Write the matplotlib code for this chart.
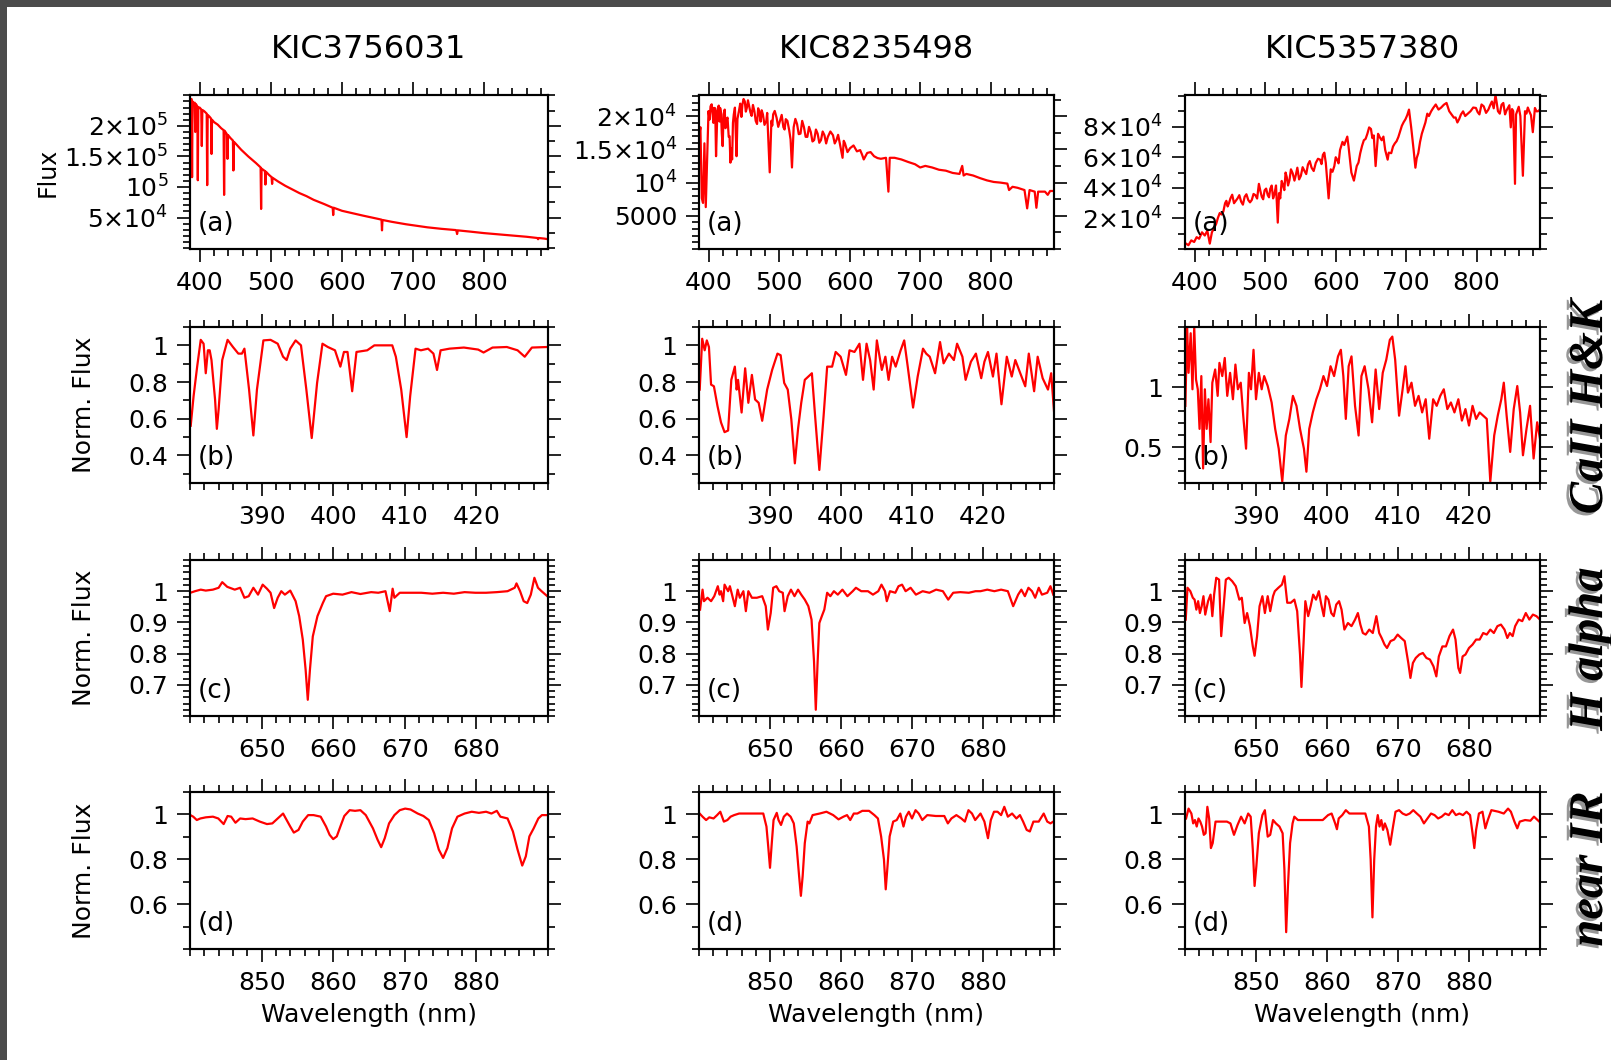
import numpy as np
import matplotlib
matplotlib.use('Agg')
import matplotlib.pyplot as plt
import matplotlib.patheffects as pe
from matplotlib.patches import Rectangle
from matplotlib.ticker import FixedLocator, FixedFormatter, MultipleLocator

plt.rcParams['font.family'] = 'DejaVu Sans'
plt.rcParams['mathtext.fontset'] = 'dejavusans'

stars = ['KIC3756031', 'KIC8235498', 'KIC5357380']
bands = ['CaII H&K', 'H alpha', 'near IR']
letters = ['(a)', '(b)', '(c)', '(d)']

# ---- (a) full spectra: wavelength (nm), flux ----
s1_full = np.array([
    (386.0, 2.36e5), (387.0, 2.42e5), (388.2, 2.44e5), (388.9, 1.16e5), (389.6, 2.40e5),
    (391.0, 2.35e5), (392.6, 2.38e5), (393.4, 1.90e5), (394.2, 2.36e5), (396.3, 2.32e5),
    (397.0, 1.11e5), (397.7, 2.30e5), (399.5, 2.30e5), (401.8, 2.27e5), (402.6, 1.67e5),
    (403.4, 2.26e5), (406.0, 2.24e5), (409.5, 2.20e5), (410.2, 1.03e5), (410.9, 2.18e5),
    (413.5, 2.15e5), (415.6, 2.12e5), (416.3, 1.54e5), (417.0, 2.10e5), (420.0, 2.06e5),
    (425.0, 2.02e5), (430.0, 1.96e5), (433.3, 1.93e5), (434.0, 8.7e4), (434.8, 1.92e5),
    (438.1, 1.86e5), (438.8, 1.46e5), (439.5, 1.85e5), (443.0, 1.80e5), (446.4, 1.76e5),
    (447.1, 1.27e5), (447.8, 1.74e5), (451.0, 1.70e5), (458.0, 1.61e5), (468.0, 1.50e5),
    (479.0, 1.39e5), (485.4, 1.32e5), (486.1, 6.4e4), (486.8, 1.30e5), (491.5, 1.26e5),
    (492.2, 1.04e5), (492.9, 1.25e5), (497.0, 1.20e5), (500.9, 1.16e5), (501.6, 1.05e5),
    (502.3, 1.15e5), (510.0, 1.09e5), (520.0, 1.02e5), (530.0, 9.6e4), (540.0, 9.0e4),
    (550.0, 8.5e4), (560.0, 7.9e4), (575.0, 7.2e4), (586.9, 6.6e4), (587.6, 5.4e4),
    (588.3, 6.6e4), (600.0, 6.1e4), (615.0, 5.7e4), (630.0, 5.3e4), (650.0, 4.8e4),
    (655.6, 4.65e4), (656.3, 2.9e4), (657.0, 4.6e4), (670.0, 4.3e4), (690.0, 3.9e4),
    (702.0, 3.7e4), (720.0, 3.4e4), (740.0, 3.15e4), (760.0, 2.95e4), (761.0, 2.9e4),
    (762.0, 2.3e4), (763.0, 2.9e4), (780.0, 2.7e4), (800.0, 2.45e4), (820.0, 2.25e4),
    (840.0, 2.05e4), (860.0, 1.85e4), (875.0, 1.65e4), (876.0, 1.45e4), (877.0, 1.65e4),
    (885.0, 1.55e4), (890.0, 1.45e4)])

s2_full = np.array([
    (386.0, 16900), (388.0, 18350), (390.0, 7670), (391.7, 6940), (393.7, 15920),
    (395.6, 6310), (397.6, 13490), (399.5, 20780), (401.0, 19500), (402.4, 21500),
    (404.0, 21800), (405.3, 20290), (406.5, 19000), (407.3, 21260), (409.0, 21200),
    (410.2, 13980), (411.2, 17500), (412.1, 20780), (414.0, 21600), (415.2, 19200),
    (416.0, 21260), (417.2, 20600), (418.4, 17380), (419.6, 15500), (420.9, 20290),
    (422.5, 21000), (423.6, 18200), (424.8, 19320), (426.5, 19800), (428.2, 16890),
    (429.4, 17000), (430.6, 13010), (431.8, 15200), (433.0, 13490), (434.2, 19000),
    (435.4, 20290), (437.0, 21300), (438.2, 17600), (439.3, 13980), (440.6, 19600),
    (442.7, 20780), (444.5, 21900), (446.2, 19900), (447.6, 21750), (449.3, 22600),
    (451.0, 22230), (452.5, 20700), (453.9, 21260), (455.5, 22400), (457.3, 21500),
    (459.0, 20600), (460.7, 20050), (462.6, 21700), (464.6, 20780), (466.5, 19300),
    (468.4, 18830), (470.0, 21200), (471.8, 20530), (473.5, 19200), (475.0, 20900),
    (476.7, 20290), (479.0, 18700), (481.6, 19320), (482.8, 20500), (484.0, 17380),
    (486.4, 11550), (488.8, 19320), (490.0, 18600), (491.3, 20290), (493.5, 20800),
    (496.1, 19800), (498.5, 18400), (501.0, 19320), (503.4, 20200), (505.8, 18350),
    (507.5, 18000), (509.2, 19560), (511.5, 19300), (514.1, 17860), (516.0, 16500),
    (518.0, 12280), (520.4, 18350), (522.8, 19600), (525.2, 18830), (527.6, 17300),
    (530.1, 17380), (532.5, 19300), (535.0, 18350), (537.4, 16900), (539.8, 16890),
    (542.2, 18400), (544.7, 17620), (547.1, 16200), (549.5, 16410), (552.0, 18000),
    (554.4, 17380), (556.8, 16000), (559.2, 16410), (561.6, 17700), (564.1, 17140),
    (566.5, 15900), (568.9, 16890), (572.5, 17700), (576.2, 17140), (578.7, 15900),
    (581.1, 16410), (583.5, 17200), (585.9, 15920), (589.8, 13740), (591.5, 16300),
    (593.2, 15920), (596.8, 14600), (600.5, 15190), (605.4, 15600), (610.2, 14710),
    (614.8, 14900), (617.5, 14220), (619.9, 13490), (624.8, 14470), (629.6, 14600),
    (634.5, 13980), (639.4, 13700), (644.2, 13590), (651.5, 13740), (654.9, 8640),
    (656.8, 13740), (663.6, 13740), (673.3, 13490), (683.0, 13110), (692.7, 12770),
    (700.0, 12280), (707.3, 12520), (717.0, 12280), (726.7, 11940), (736.4, 11800),
    (746.1, 11460), (755.8, 11310), (759.7, 12520), (761.7, 11070), (765.5, 11310),
    (775.2, 11070), (784.9, 10680), (794.7, 10340), (804.4, 10100), (814.1, 10000),
    (823.8, 9850), (826.2, 8880), (831.1, 9370), (838.3, 9220), (848.1, 8880),
    (851.9, 6120), (855.3, 8880), (862.6, 8640), (865.0, 6210), (867.5, 8640),
    (877.2, 8640), (881.1, 8160), (884.5, 8740), (888.3, 8740)])

s3_full = np.array([
    (387.4, 3530), (390.9, 2470), (394.9, 5640), (399.0, 4580), (402.5, 7750),
    (406.1, 6700), (410.1, 10920), (414.1, 8810), (417.7, 11970), (421.2, 3530),
    (424.2, 10920), (427.8, 14090), (430.3, 16500), (432.8, 20420), (435.3, 23500),
    (437.9, 22530), (440.4, 24500), (442.9, 29930), (444.7, 31500), (446.5, 27810),
    (448.5, 30000), (450.5, 33100), (453.0, 35500), (455.6, 29930), (458.1, 31500),
    (460.6, 33100), (463.1, 35200), (465.7, 30980), (468.2, 29000), (470.7, 34150),
    (473.2, 35800), (475.8, 32040), (478.3, 30500), (480.8, 32040), (483.3, 36000),
    (485.9, 35200), (488.4, 33000), (490.9, 42600), (493.0, 38000), (495.0, 34150),
    (497.0, 32500), (499.0, 38370), (501.2, 39500), (503.5, 35200), (505.3, 33800),
    (507.1, 39430), (509.1, 41500), (511.1, 33100), (513.1, 36000), (515.2, 41540),
    (517.7, 17250), (519.5, 36500), (521.2, 33100), (523.3, 44500), (525.3, 41540),
    (527.0, 38500), (528.8, 49990), (530.5, 47000), (532.3, 41540), (534.3, 45000),
    (536.4, 52100), (538.9, 49500), (541.4, 44710), (543.4, 48500), (545.5, 53160),
    (548.0, 45500), (550.5, 47880), (553.0, 53500), (555.6, 51050), (558.1, 49000),
    (560.6, 55270), (563.1, 57500), (565.7, 53160), (568.7, 51000), (571.7, 56330),
    (574.8, 59000), (577.8, 58440), (579.8, 55500), (581.8, 61610), (583.8, 63000),
    (585.9, 56330), (589.9, 33100), (592.9, 52100), (595.4, 50500), (598.0, 54210),
    (600.0, 60000), (602.0, 58440), (604.0, 56000), (606.1, 64770), (609.6, 70050),
    (612.1, 68000), (614.6, 71110), (616.4, 73500), (618.2, 66890), (622.2, 49990),
    (625.8, 44710), (629.8, 54210), (632.3, 56500), (634.8, 62660), (637.4, 67500),
    (639.9, 71110), (642.4, 72000), (644.9, 75330), (647.4, 79500), (650.0, 78500),
    (652.0, 72500), (654.0, 74280), (656.6, 54210), (660.1, 75330), (662.6, 73000),
    (665.2, 71110), (667.7, 73500), (670.2, 64770), (673.7, 58440), (675.3, 63000),
    (678.8, 62660), (681.3, 67000), (683.8, 69000), (686.4, 70500), (688.9, 73220),
    (691.4, 77000), (693.9, 80610), (696.5, 83000), (699.0, 84840), (701.5, 87500),
    (704.0, 91170), (707.1, 79560), (710.6, 64770), (713.1, 53160), (715.0, 59500),
    (717.2, 62660), (719.7, 70000), (722.2, 75330), (724.8, 79000), (727.3, 82730),
    (730.0, 88500), (732.3, 86950), (735.4, 90000), (738.4, 92230), (742.0, 94500),
    (745.9, 91170), (749.7, 92500), (753.5, 94340), (757.3, 95500), (761.1, 90120),
    (764.4, 88000), (767.7, 85900), (770.2, 86000), (772.7, 82730), (775.3, 85000),
    (777.8, 88010), (780.8, 90000), (783.8, 86950), (787.6, 88500), (791.4, 90120),
    (795.2, 92500), (799.0, 92230), (801.5, 89500), (804.0, 88010), (807.0, 94500),
    (810.1, 93290), (813.4, 89000), (816.7, 91170), (819.2, 94000), (821.7, 96450),
    (824.3, 92000), (826.8, 100680), (828.6, 95500), (830.3, 90120), (832.9, 88500),
    (835.4, 94340), (837.9, 95500), (840.4, 88010), (842.4, 90500), (844.4, 92230),
    (846.5, 94000), (848.5, 79560), (850.3, 91500), (852.0, 90120), (854.5, 42600),
    (856.0, 88000), (857.6, 90120), (859.8, 93000), (862.1, 86950), (865.7, 47880),
    (868.7, 90120), (870.7, 88500), (872.7, 92500), (874.7, 90120), (877.2, 87500),
    (879.8, 76390), (882.8, 92230), (885.1, 90000), (887.4, 90120), (889.9, 91170)])

# ---- (b) CaII H&K region, normalised flux ----
s1_cahk = np.array([
    (380.1, 0.562), (380.5, 0.723), (381.0, 0.884), (381.5, 1.030), (381.9, 1.009),
    (382.2, 0.848), (382.5, 0.973), (382.75, 0.973), (383.0, 0.920), (383.5, 0.705),
    (383.75, 0.545), (384.0, 0.652), (384.5, 0.920), (385.25, 1.030), (386.0, 0.991),
    (386.75, 0.955), (387.25, 0.955), (387.6, 0.982), (388.25, 0.759), (388.85, 0.509),
    (389.35, 0.759), (390.25, 1.027), (391.25, 1.030), (392.25, 1.009), (393.0, 0.938),
    (393.5, 0.920), (394.0, 0.982), (394.75, 1.027), (395.5, 1.000), (396.25, 0.759),
    (397.0, 0.495), (397.75, 0.795), (398.5, 1.009), (399.25, 0.991), (400.25, 0.973),
    (401.0, 0.884), (401.5, 0.964), (402.0, 0.964), (402.65, 0.750), (403.25, 0.964),
    (404.75, 0.973), (405.75, 1.000), (407.25, 1.000), (408.25, 1.000), (408.75, 0.938),
    (409.5, 0.759), (410.25, 0.500), (410.75, 0.723), (411.5, 0.982), (412.25, 0.973),
    (413.25, 0.982), (414.0, 0.955), (414.5, 0.866), (415.0, 0.973), (416.25, 0.982),
    (418.25, 0.988), (420.25, 0.977), (421.0, 0.961), (422.25, 0.988), (424.25, 0.991),
    (425.75, 0.973), (426.75, 0.938), (427.75, 0.988), (429.9, 0.991)])

s2_cahk = np.array([
    (380.1, 0.759), (380.45, 1.036), (380.8, 0.973), (381.1, 1.027), (381.4, 0.991),
    (381.7, 0.786), (382.1, 0.777), (382.6, 0.670), (383.1, 0.580), (383.6, 0.527),
    (384.1, 0.536), (384.55, 0.812), (385.05, 0.884), (385.3, 0.759), (385.5, 0.812),
    (386.0, 0.634), (386.5, 0.875), (386.95, 0.687), (387.45, 0.839), (387.9, 0.705),
    (388.4, 0.687), (388.9, 0.589), (389.6, 0.759), (390.3, 0.866), (391.05, 0.955),
    (391.5, 0.946), (392.0, 0.795), (392.5, 0.759), (393.0, 0.598), (393.5, 0.357),
    (393.95, 0.545), (394.4, 0.687), (394.9, 0.812), (395.4, 0.830), (395.9, 0.848),
    (396.35, 0.616), (396.95, 0.321), (397.55, 0.616), (398.05, 0.884), (398.75, 0.884),
    (399.25, 0.964), (399.95, 0.938), (400.7, 0.839), (401.2, 0.973), (401.9, 0.964),
    (402.6, 1.009), (403.1, 0.812), (403.6, 1.009), (404.1, 0.920), (404.6, 0.759),
    (405.05, 1.027), (405.75, 0.866), (406.25, 0.938), (406.7, 0.812), (407.2, 0.938),
    (407.7, 0.884), (408.4, 0.973), (408.9, 1.027), (409.4, 0.884), (410.15, 0.661),
    (410.8, 0.830), (411.55, 0.982), (412.0, 0.955), (412.5, 0.938), (413.25, 0.848),
    (413.95, 1.018), (414.45, 0.902), (415.2, 0.955), (415.9, 0.920), (416.35, 1.009),
    (417.1, 0.938), (417.55, 0.812), (418.3, 0.911), (419.0, 0.955), (419.75, 0.821),
    (420.2, 0.911), (420.7, 0.964), (421.4, 0.830), (421.9, 0.955), (422.6, 0.679),
    (423.35, 0.938), (424.05, 0.830), (424.55, 0.920), (425.25, 0.848), (425.95, 0.777),
    (426.45, 0.955), (427.2, 0.750), (427.7, 0.938), (428.4, 0.821), (429.15, 0.759),
    (429.6, 0.848), (430.0, 0.643)])

s3_cahk = np.array([
    (380.05, 0.843), (380.3, 1.50), (380.5, 1.118), (380.8, 1.448), (381.05, 0.981),
    (381.3, 1.50), (381.55, 1.063), (381.8, 0.981), (382.05, 0.651), (382.3, 1.091),
    (382.55, 0.321), (382.8, 0.981), (383.05, 0.651), (383.3, 0.898), (383.6, 0.541),
    (383.85, 1.036), (384.25, 1.146), (384.6, 0.926), (384.85, 1.201), (385.25, 1.091),
    (385.6, 1.242), (385.95, 0.926), (386.35, 1.118), (386.75, 0.898), (387.1, 1.187),
    (387.45, 0.981), (387.85, 1.036), (388.2, 0.761), (388.6, 0.486), (389.0, 1.118),
    (389.3, 0.981), (389.65, 1.310), (390.0, 0.898), (390.4, 1.118), (390.8, 0.981),
    (391.15, 1.091), (391.65, 1.008), (392.2, 0.871), (392.7, 0.651), (393.2, 0.486),
    (393.7, 0.212), (394.2, 0.596), (394.7, 0.734), (395.2, 0.926), (395.7, 0.843),
    (396.2, 0.651), (396.75, 0.486), (397.1, 0.294), (397.5, 0.651), (398.0, 0.788),
    (398.5, 0.898), (399.0, 0.981), (399.5, 1.091), (400.0, 1.008), (400.5, 1.173),
    (401.0, 1.091), (401.55, 1.255), (401.95, 1.310), (402.3, 1.091), (402.65, 0.734),
    (403.05, 1.173), (403.45, 1.255), (403.95, 0.843), (404.45, 0.596), (404.85, 1.091),
    (405.3, 1.173), (405.85, 0.981), (406.35, 0.706), (406.85, 1.146), (407.35, 0.816),
    (407.85, 1.118), (408.35, 1.228), (408.85, 1.393), (409.2, 1.420), (409.6, 1.228),
    (410.15, 0.761), (410.65, 0.981), (411.05, 1.173), (411.4, 0.953), (411.9, 1.036),
    (412.4, 0.843), (412.9, 0.926), (413.4, 0.788), (413.9, 0.898), (414.4, 0.569),
    (414.95, 0.898), (415.45, 0.843), (415.95, 0.926), (416.45, 0.981), (416.95, 0.816),
    (417.45, 0.871), (417.95, 0.788), (418.5, 0.898), (419.0, 0.720), (419.5, 0.816),
    (420.0, 0.679), (420.5, 0.843), (421.0, 0.734), (421.5, 0.788), (422.0, 0.761),
    (422.5, 0.734), (423.0, 0.212), (423.55, 0.596), (424.05, 0.761), (424.55, 0.898),
    (424.9, 1.036), (425.3, 0.761), (425.8, 0.459), (426.3, 0.816), (426.8, 1.008),
    (427.2, 0.788), (427.6, 0.431), (428.1, 0.651), (428.6, 0.843), (429.1, 0.404),
    (429.6, 0.706), (430.0, 0.569)])

# ---- (c) H alpha region ----
s1_halpha = np.array([
    (640.05, 0.995), (640.7, 1.000), (641.5, 1.005), (642.2, 1.002), (643.2, 1.005),
    (644.0, 1.011), (644.5, 1.029), (645.2, 1.014), (646.25, 1.005), (647.0, 1.011),
    (647.6, 0.979), (648.2, 0.984), (648.85, 1.011), (649.5, 0.989), (650.15, 1.021),
    (650.75, 1.008), (651.25, 0.995), (651.75, 0.946), (652.25, 0.979), (652.75, 1.000),
    (653.25, 0.989), (654.0, 1.002), (654.75, 0.968), (655.25, 0.920), (655.75, 0.845),
    (656.15, 0.748), (656.45, 0.652), (656.75, 0.748), (657.15, 0.855), (657.8, 0.920),
    (658.55, 0.962), (659.0, 0.984), (660.0, 0.992), (661.3, 0.989), (662.55, 0.997),
    (663.8, 0.991), (665.3, 0.997), (666.3, 0.995), (667.3, 1.000), (667.9, 0.936),
    (668.3, 1.008), (668.55, 0.979), (669.3, 0.995), (670.8, 0.995), (672.3, 0.995),
    (673.85, 0.992), (675.35, 0.995), (676.85, 0.992), (678.35, 0.997), (679.85, 0.995),
    (681.35, 0.995), (682.85, 0.997), (684.35, 1.000), (685.35, 1.011), (685.6, 1.025),
    (686.1, 1.000), (686.6, 0.968), (687.1, 0.962), (687.6, 0.989), (688.1, 1.043),
    (688.6, 1.011), (689.1, 1.000), (689.9, 0.984)])

s2_halpha = np.array([
    (640.15, 0.941), (640.5, 1.005), (640.7, 0.968), (641.2, 0.979), (641.7, 0.968),
    (642.15, 0.984), (642.65, 1.016), (642.9, 0.989), (643.1, 1.000), (643.4, 0.968),
    (643.6, 1.021), (644.1, 1.000), (644.35, 1.016), (644.65, 0.989), (645.05, 0.952),
    (645.45, 1.005), (645.75, 0.979), (646.25, 1.000), (646.6, 0.936), (646.95, 1.000),
    (647.45, 0.979), (648.15, 0.979), (648.9, 0.984), (649.4, 0.952), (649.7, 0.877),
    (650.1, 0.930), (650.45, 1.011), (650.9, 1.016), (651.3, 1.000), (651.8, 0.995),
    (652.05, 0.936), (652.5, 0.984), (652.95, 1.005), (653.45, 0.984), (653.95, 1.005),
    (654.4, 0.989), (654.9, 0.973), (655.4, 0.952), (655.85, 0.909), (656.2, 0.775),
    (656.45, 0.620), (656.7, 0.770), (656.95, 0.898), (657.3, 0.920), (657.65, 0.941),
    (658.05, 0.995), (658.5, 0.984), (659.0, 1.000), (659.55, 0.989), (660.2, 1.005),
    (660.9, 0.984), (661.65, 1.000), (662.1, 1.011), (662.85, 1.000), (663.8, 1.000),
    (664.5, 0.989), (665.25, 1.000), (665.7, 1.021), (666.2, 1.000), (666.45, 0.968),
    (666.9, 1.000), (667.65, 0.995), (668.1, 1.016), (668.6, 1.021), (669.1, 1.000),
    (669.8, 1.011), (670.55, 0.989), (671.5, 1.000), (672.45, 0.995), (673.4, 1.005),
    (674.35, 1.000), (675.1, 0.973), (675.8, 0.995), (676.8, 0.997), (678.0, 0.995),
    (678.95, 1.000), (679.65, 1.000), (680.6, 1.005), (681.6, 1.000), (682.55, 1.005),
    (683.5, 1.000), (684.25, 0.952), (684.95, 0.989), (685.4, 1.005), (685.9, 0.984),
    (686.4, 1.011), (686.9, 1.000), (687.35, 0.979), (687.85, 1.011), (688.3, 0.989),
    (689.05, 0.995), (689.5, 1.016), (689.9, 0.989)])

s3_halpha = np.array([
    (640.1, 0.909), (640.35, 1.011), (640.75, 1.000), (641.1, 0.979), (641.35, 0.973),
    (641.6, 0.941), (641.85, 0.968), (642.1, 0.930), (642.35, 0.952), (642.6, 0.984),
    (642.85, 0.925), (643.25, 0.968), (643.6, 0.989), (643.85, 0.920), (644.1, 0.989),
    (644.4, 1.043), (644.8, 1.037), (645.1, 0.856), (645.4, 0.941), (645.75, 1.037),
    (646.15, 1.043), (646.65, 1.032), (647.15, 1.016), (647.65, 0.973), (648.0, 0.979),
    (648.4, 0.898), (648.75, 0.930), (649.15, 0.888), (649.55, 0.823), (649.8, 0.793),
    (650.15, 0.856), (650.5, 0.952), (650.9, 0.984), (651.25, 0.930), (651.65, 0.984),
    (652.0, 0.936), (652.4, 0.984), (652.65, 1.000), (653.15, 1.011), (653.65, 1.021),
    (654.0, 1.048), (654.4, 0.963), (654.9, 0.963), (655.4, 0.973), (655.8, 0.936),
    (656.2, 0.797), (656.4, 0.693), (656.7, 0.834), (656.95, 0.968), (657.35, 0.920),
    (657.7, 0.952), (658.05, 0.989), (658.45, 0.973), (658.85, 1.000), (659.2, 0.957),
    (659.55, 0.920), (659.85, 0.984), (660.2, 0.973), (660.6, 0.930), (660.95, 0.920),
    (661.3, 0.957), (661.7, 0.968), (662.05, 0.941), (662.45, 0.877), (662.95, 0.898),
    (663.45, 0.888), (663.95, 0.909), (664.35, 0.930), (664.7, 0.893), (665.05, 0.866),
    (665.45, 0.861), (665.95, 0.877), (666.45, 0.866), (666.95, 0.920), (667.35, 0.866),
    (667.7, 0.850), (668.1, 0.829), (668.45, 0.818), (668.95, 0.840), (669.45, 0.845),
    (669.95, 0.861), (670.45, 0.850), (670.95, 0.840), (671.45, 0.770), (671.75, 0.722),
    (672.1, 0.770), (672.5, 0.786), (673.0, 0.797), (673.5, 0.802), (674.0, 0.786),
    (674.5, 0.781), (675.0, 0.759), (675.4, 0.727), (675.75, 0.791), (676.25, 0.823),
    (676.75, 0.823), (677.25, 0.856), (677.75, 0.877), (678.1, 0.845), (678.5, 0.754),
    (678.75, 0.738), (679.1, 0.791), (679.5, 0.797), (680.0, 0.818), (680.5, 0.829),
    (681.0, 0.845), (681.5, 0.845), (682.0, 0.866), (682.5, 0.861), (683.0, 0.877),
    (683.5, 0.866), (684.0, 0.888), (684.5, 0.893), (685.0, 0.877), (685.4, 0.850),
    (685.75, 0.866), (686.15, 0.856), (686.5, 0.888), (687.0, 0.909), (687.5, 0.904),
    (688.0, 0.930), (688.5, 0.909), (689.0, 0.925), (689.5, 0.920), (690.0, 0.909)])

# ---- (d) CaII triplet / near IR ----
s1_nir = np.array([
    (840.05, 0.997), (840.45, 0.990), (840.95, 0.975), (841.45, 0.982), (842.2, 0.987),
    (843.2, 0.990), (843.95, 0.982), (844.7, 0.957), (845.25, 0.993), (845.75, 0.990),
    (846.35, 0.963), (847.0, 0.982), (847.75, 0.979), (848.75, 0.982), (849.75, 0.968),
    (850.75, 0.957), (851.5, 0.960), (852.25, 0.982), (853.0, 1.004), (853.5, 0.975),
    (854.0, 0.946), (854.5, 0.919), (855.15, 0.931), (855.75, 0.968), (856.5, 0.997),
    (857.25, 0.997), (858.25, 0.990), (859.0, 0.946), (859.5, 0.909), (860.0, 0.890),
    (860.5, 0.902), (861.0, 0.946), (861.55, 0.993), (862.3, 1.019), (863.05, 1.016),
    (863.8, 1.019), (864.55, 0.997), (865.55, 0.938), (866.2, 0.887), (866.7, 0.854),
    (867.2, 0.894), (867.8, 0.960), (868.55, 0.997), (869.3, 1.019), (870.05, 1.026),
    (870.8, 1.022), (871.8, 1.004), (872.6, 0.993), (873.35, 0.975), (874.1, 0.916),
    (874.75, 0.843), (875.35, 0.806), (875.95, 0.850), (876.6, 0.938), (877.35, 0.990),
    (878.35, 1.004), (879.35, 1.012), (880.35, 1.007), (881.35, 1.012), (882.1, 1.004),
    (882.85, 1.016), (883.35, 0.990), (884.35, 0.982), (885.1, 0.924), (885.75, 0.843),
    (886.4, 0.772), (886.9, 0.813), (887.4, 0.902), (888.0, 0.938), (888.65, 0.982),
    (889.15, 0.997), (890.0, 0.997)])

s2_nir = np.array([
    (840.0, 1.007), (840.5, 0.990), (841.0, 0.975), (841.45, 0.987), (842.05, 0.982),
    (842.55, 0.997), (843.0, 1.012), (843.5, 0.968), (844.0, 0.975), (844.45, 0.990),
    (844.95, 0.997), (845.65, 1.004), (846.85, 1.004), (847.85, 1.004), (849.05, 1.004),
    (849.5, 0.946), (849.75, 0.857), (850.0, 0.762), (850.25, 0.872), (850.5, 0.975),
    (850.95, 1.007), (851.2, 0.975), (851.55, 0.953), (851.95, 0.990), (852.4, 1.004),
    (852.9, 0.990), (853.35, 0.960), (853.75, 0.857), (854.1, 0.725), (854.35, 0.637),
    (854.6, 0.725), (854.9, 0.872), (855.3, 0.968), (855.55, 0.960), (856.0, 0.997),
    (857.0, 1.004), (857.95, 1.012), (858.9, 0.997), (859.65, 0.978), (860.35, 0.990),
    (860.85, 0.997), (861.3, 0.975), (861.8, 1.004), (862.3, 1.004), (863.0, 1.016),
    (863.95, 1.016), (864.7, 0.997), (865.2, 0.982), (865.65, 0.902), (866.05, 0.799),
    (866.3, 0.666), (866.55, 0.769), (866.85, 0.902), (867.35, 0.968), (867.85, 0.975),
    (868.35, 1.004), (868.8, 0.946), (869.15, 0.990), (869.55, 1.012), (870.0, 0.982),
    (870.5, 1.019), (870.95, 1.004), (871.45, 0.975), (872.15, 0.997), (873.35, 0.993),
    (874.55, 0.993), (875.05, 0.960), (875.55, 0.982), (876.25, 0.997), (876.95, 0.982),
    (877.45, 0.968), (877.95, 1.019), (878.45, 1.004), (878.9, 0.975), (879.65, 1.004),
    (880.2, 0.968), (880.7, 0.894), (881.1, 0.975), (881.55, 1.012), (882.05, 1.012),
    (882.55, 0.997), (883.0, 1.034), (883.5, 0.990), (884.1, 1.004), (884.7, 0.982),
    (885.2, 0.997), (885.65, 0.968), (886.15, 0.931), (886.6, 0.924), (887.1, 0.968),
    (887.85, 0.968), (888.55, 1.004), (889.05, 0.968), (889.5, 0.960), (889.9, 0.968)])

s3_nir = np.array([
    (840.15, 0.982), (840.5, 1.026), (840.9, 1.004), (841.15, 0.960), (841.4, 0.975),
    (841.65, 0.946), (841.9, 0.982), (842.15, 0.968), (842.4, 0.946), (842.65, 0.909),
    (842.9, 0.916), (843.15, 1.034), (843.4, 0.982), (843.65, 0.850), (843.9, 0.872),
    (844.3, 0.968), (844.9, 0.968), (845.9, 0.968), (846.4, 0.960), (846.9, 0.909),
    (847.4, 0.953), (847.9, 0.990), (848.4, 0.960), (848.9, 1.004), (849.25, 0.990),
    (849.55, 0.843), (849.8, 0.681), (850.05, 0.769), (850.4, 0.916), (850.9, 0.997),
    (851.25, 1.019), (851.65, 0.901), (852.0, 0.909), (852.4, 0.975), (852.8, 0.960),
    (853.3, 0.946), (853.75, 0.916), (854.0, 0.755), (854.25, 0.475), (854.5, 0.681),
    (854.8, 0.872), (855.15, 0.960), (855.4, 0.990), (855.9, 0.975), (856.9, 0.975),
    (858.15, 0.975), (859.4, 0.975), (860.15, 0.997), (860.65, 1.004), (861.15, 0.960),
    (861.4, 0.934), (861.65, 0.982), (862.15, 0.997), (862.65, 1.019), (863.15, 1.004),
    (863.65, 1.004), (864.4, 1.004), (865.4, 1.004), (865.9, 0.946), (866.15, 0.799),
    (866.4, 0.541), (866.65, 0.799), (866.9, 0.946), (867.15, 0.997), (867.4, 0.946),
    (867.65, 0.975), (867.9, 0.931), (868.15, 0.960), (868.5, 0.931), (868.9, 0.865),
    (869.3, 0.946), (869.65, 1.012), (870.15, 1.019), (870.65, 1.004), (871.15, 0.997),
    (871.65, 1.004), (872.15, 1.019), (872.65, 1.004), (873.15, 0.990), (873.65, 0.960),
    (874.15, 0.982), (874.65, 1.004), (875.15, 0.997), (875.65, 0.982), (876.15, 0.990),
    (876.65, 1.004), (877.15, 0.997), (877.65, 1.019), (878.15, 0.997), (878.65, 1.004),
    (879.15, 0.997), (879.65, 1.012), (880.15, 0.997), (880.5, 0.916), (880.75, 0.850),
    (881.0, 0.931), (881.4, 1.004), (881.9, 1.012), (882.3, 0.938), (882.65, 0.975),
    (883.15, 1.019), (884.15, 1.012), (884.9, 1.004), (885.5, 1.026), (885.9, 1.012),
    (886.4, 0.968), (886.8, 0.938), (887.15, 0.968), (887.9, 0.975), (888.65, 0.972),
    (889.15, 0.990), (889.9, 0.968)])

spectra = [[s1_full, s2_full, s3_full],
           [s1_cahk, s2_cahk, s3_cahk],
           [s1_halpha, s2_halpha, s3_halpha],
           [s1_nir, s2_nir, s3_nir]]

# axis ranges and ticks, per row (x) and per panel (y)
xlims = [(386, 890), (380, 430), (640, 690), (840, 890)]
xmajor = [[400, 500, 600, 700, 800], [390, 400, 410, 420],
          [650, 660, 670, 680], [850, 860, 870, 880]]
xminor = [20, 2, 2, 2]

ylims = [[(-1500, 2.505e5), (0, 2.32e4), (0, 1.007e5)],
         [(0.25, 1.1), (0.25, 1.1), (0.2, 1.5)],
         [(0.6, 1.1)] * 3,
         [(0.4, 1.1)] * 3]
ymajor = [[[5e4, 1e5, 1.5e5, 2e5], [5000, 1e4, 1.5e4, 2e4], [2e4, 4e4, 6e4, 8e4]],
          [[0.4, 0.6, 0.8, 1.0], [0.4, 0.6, 0.8, 1.0], [0.5, 1.0]],
          [[0.7, 0.8, 0.9, 1.0]] * 3,
          [[0.6, 0.8, 1.0]] * 3]
ylabels = [[[r'$5{\times}10^4$', r'$10^5$', r'$1.5{\times}10^5$', r'$2{\times}10^5$'],
            ['5000', r'$10^4$', r'$1.5{\times}10^4$', r'$2{\times}10^4$'],
            [r'$2{\times}10^4$', r'$4{\times}10^4$', r'$6{\times}10^4$', r'$8{\times}10^4$']],
           [['0.4', '0.6', '0.8', '1'], ['0.4', '0.6', '0.8', '1'], ['0.5', '1']],
           [['0.7', '0.8', '0.9', '1']] * 3,
           [['0.6', '0.8', '1']] * 3]
yminor_left = [[1e4, 1000, 1e4], [0.1, 0.1, 0.1], [0.02] * 3, [0.1] * 3]
yminor_right = [[2.5e4, 2500, 1e4], [0.1, 0.1, 0.1], [0.02] * 3, [0.1] * 3]

W, H = 1611, 1060
col_left = [190, 699, 1185]
col_w = [358, 355, 355]
row_top = [95, 327, 560, 792]
row_h = [154, 156, 156, 157]

fs = 18
fig = plt.figure(figsize=(W / 100, H / 100), dpi=100)
fig.patch.set_facecolor('white')

for r in range(4):
    for c in range(3):
        rect = [col_left[c] / W, 1 - (row_top[r] + row_h[r]) / H,
                col_w[c] / W, row_h[r] / H]
        ax = fig.add_axes(rect)
        sp = spectra[r][c]
        sp = sp[np.argsort(sp[:, 0])]
        ax.plot(sp[:, 0], sp[:, 1], color='#ff0000', lw=1.6)

        ax.set_xlim(*xlims[r])
        ax.set_ylim(*ylims[r][c])
        ax.xaxis.set_major_locator(FixedLocator(xmajor[r]))
        ax.xaxis.set_minor_locator(MultipleLocator(xminor[r]))
        ax.yaxis.set_major_locator(FixedLocator(ymajor[r][c]))
        ax.yaxis.set_major_formatter(FixedFormatter(ylabels[r][c]))
        ax.yaxis.set_minor_locator(MultipleLocator(yminor_left[r][c]))

        for s in ax.spines.values():
            s.set_linewidth(1.5)

        # right-hand axis carries its own minor spacing
        tw = ax.twinx()
        tw.set_ylim(*ylims[r][c])
        tw.yaxis.set_major_locator(FixedLocator(ymajor[r][c]))
        tw.yaxis.set_minor_locator(MultipleLocator(yminor_right[r][c]))
        tw.tick_params(which='both', direction='out', right=True, labelright=False, width=1.2)
        tw.tick_params(which='major', length=9.5)
        tw.tick_params(which='minor', length=5)
        for s in tw.spines.values():
            s.set_linewidth(1.5)

        ax.tick_params(which='both', direction='out', top=True, right=False,
                       width=1.2, labelsize=fs)
        ax.tick_params(which='major', length=9.5, pad=6)
        ax.tick_params(which='minor', length=5)

        ax.text(0.022, 0.16, letters[r], transform=ax.transAxes, fontsize=19,
                ha='left', va='center')

# star names above the columns
for c in range(3):
    xc = (col_left[c] + col_w[c] / 2) / W
    fig.text(xc, 1 - 49 / H, stars[c], ha='center', va='center', fontsize=23)
    fig.text(xc, 1 - 1015 / H, 'Wavelength (nm)', ha='center', va='center', fontsize=fs)

# y-axis titles of the left column
fig.text(48 / W, 1 - (row_top[0] + row_h[0] / 2) / H, 'Flux', rotation=90,
         ha='center', va='center', fontsize=17)
for r in range(1, 4):
    fig.text(84 / W, 1 - (row_top[r] + row_h[r] / 2) / H, 'Norm. Flux', rotation=90,
             ha='center', va='center', fontsize=fs)

# band names on the right edge
shadow = [pe.withSimplePatchShadow(offset=(-2.5, -2), shadow_rgbFace='0.55', alpha=0.9)]
for txt, yc in zip(bands, [1 - 407 / H, 1 - 649 / H, 1 - 869 / H]):
    fig.text(0.987, yc, txt, rotation=90, ha='center', va='center', fontsize=35,
             family='Liberation Serif', weight='bold', style='italic',
             path_effects=shadow)

# dark frame along the top and left edges
fig.add_artist(Rectangle((0, 1 - 7 / H), 1, 7 / H, transform=fig.transFigure,
                         facecolor='#4b4b4b', edgecolor='none', zorder=20))
fig.add_artist(Rectangle((0, 0), 7 / W, 1, transform=fig.transFigure,
                         facecolor='#4b4b4b', edgecolor='none', zorder=20))

fig.savefig('out.png', dpi=100)
